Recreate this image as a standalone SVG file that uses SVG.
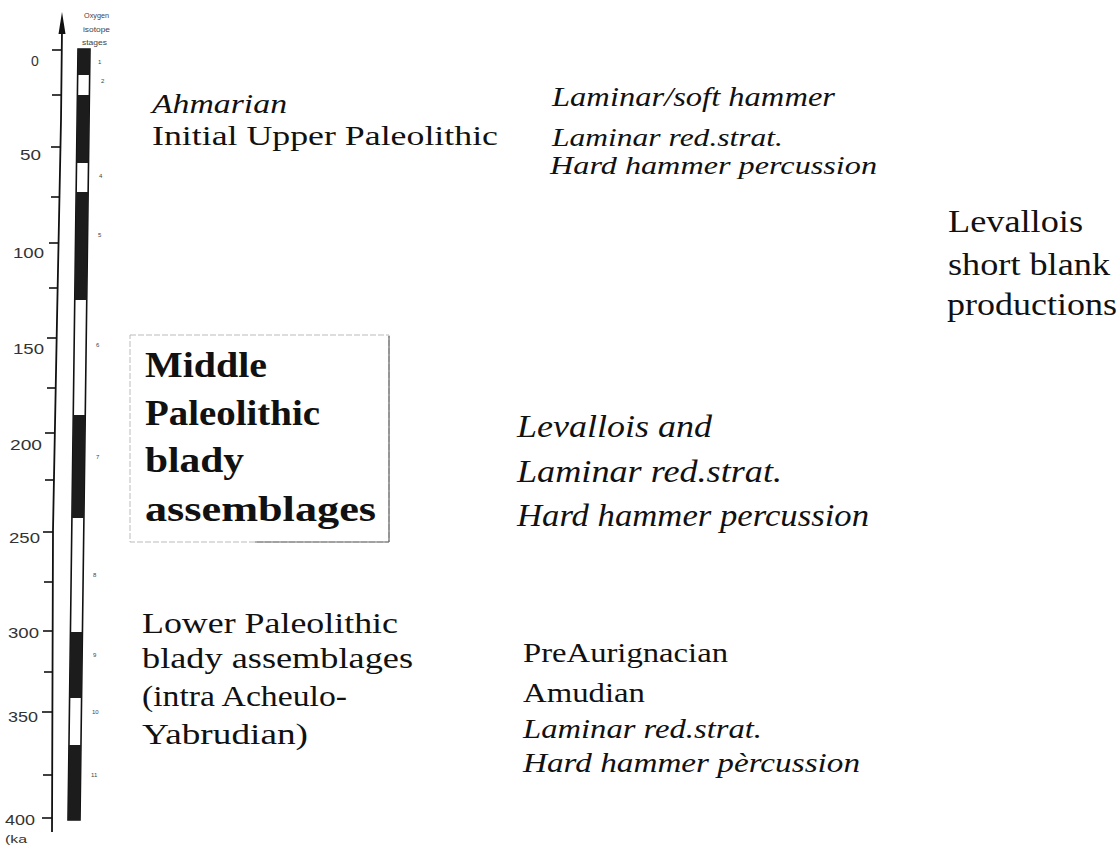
<svg xmlns="http://www.w3.org/2000/svg" width="1120" height="852" viewBox="0 0 1120 852">
<style>
  .t { font-family: "Liberation Serif", "Times New Roman", serif; fill: #111; }
  .i { font-style: italic; }
  .b { font-weight: bold; }
  .ax { font-family: "Liberation Sans", Arial, sans-serif; font-size: 14px; fill: #333; }
  .tiny { font-family: "Liberation Sans", Arial, sans-serif; font-size: 6px; fill: #444; }
  .tick { stroke: #111; stroke-width: 1.6; }
  .blk { fill: #1c1c1c; }
</style>
<rect width="1120" height="852" fill="#ffffff"/>

<g id="axis">
  <polyline points="62,30 61,120 57,320 53,530 52,832" fill="none" stroke="#111" stroke-width="1.8"/>
  <polygon points="62,12 58.5,34 65.5,34" fill="#111"/>
  <g class="tick">
    <line x1="52" y1="50" x2="62" y2="50"/>
    <line x1="52" y1="95" x2="61" y2="95"/>
    <line x1="51" y1="147" x2="61" y2="147"/>
    <line x1="51" y1="197" x2="60" y2="197"/>
    <line x1="49" y1="243" x2="59" y2="243"/>
    <line x1="49" y1="288" x2="58" y2="288"/>
    <line x1="47" y1="338" x2="57" y2="338"/>
    <line x1="47" y1="388" x2="56" y2="388"/>
    <line x1="45" y1="433" x2="55" y2="433"/>
    <line x1="45" y1="480" x2="54" y2="480"/>
    <line x1="43" y1="532" x2="53" y2="532"/>
    <line x1="44" y1="582" x2="53" y2="582"/>
    <line x1="43" y1="631" x2="53" y2="631"/>
    <line x1="44" y1="672" x2="53" y2="672"/>
    <line x1="42" y1="712" x2="52" y2="712"/>
    <line x1="43" y1="775" x2="52" y2="775"/>
    <line x1="42" y1="818" x2="52" y2="818"/>
  </g>
  <text class="ax" x="31" y="66">0</text>
  <text class="ax" x="20" y="160" textLength="21" lengthAdjust="spacingAndGlyphs">50</text>
  <text class="ax" x="13" y="258" textLength="31" lengthAdjust="spacingAndGlyphs">100</text>
  <text class="ax" x="13" y="354" textLength="31" lengthAdjust="spacingAndGlyphs">150</text>
  <text class="ax" x="10" y="450" textLength="32" lengthAdjust="spacingAndGlyphs">200</text>
  <text class="ax" x="9" y="543" textLength="31" lengthAdjust="spacingAndGlyphs">250</text>
  <text class="ax" x="8" y="638" textLength="31" lengthAdjust="spacingAndGlyphs">300</text>
  <text class="ax" x="8" y="722" textLength="30" lengthAdjust="spacingAndGlyphs">350</text>
  <text class="ax" x="5" y="825" textLength="30" lengthAdjust="spacingAndGlyphs">400</text>
  <text class="ax" x="5" y="843" style="font-size:11px" textLength="22" lengthAdjust="spacingAndGlyphs">(ka</text>
</g>

<g id="isotope-stages">
  <text class="tiny" x="84" y="18" style="font-size:7px" textLength="25" lengthAdjust="spacingAndGlyphs">Oxygen</text>
  <text class="tiny" x="83" y="32" style="font-size:7px" textLength="27" lengthAdjust="spacingAndGlyphs">isotope</text>
  <text class="tiny" x="82" y="45" style="font-size:7px" textLength="25" lengthAdjust="spacingAndGlyphs">stages</text>
  <polygon points="78,49 90,49 80,820 68,820" fill="#fff" stroke="#111" stroke-width="1.6"/>
  <polygon class="blk" points="78,49 90,49 89.66,75 77.66,75"/>
  <polygon class="blk" points="77.40,95 89.40,95 88.52,163 76.52,163"/>
  <polygon class="blk" points="76.15,192 88.15,192 86.74,300 74.74,300"/>
  <polygon class="blk" points="73.25,415 85.25,415 83.92,518 71.92,518"/>
  <polygon class="blk" points="70.44,632 82.44,632 81.58,698 69.58,698"/>
  <polygon class="blk" points="68.97,745 80.97,745 80,820 68,820"/>
  <text class="tiny" x="98" y="64">1</text>
  <text class="tiny" x="101" y="83">2</text>
  <text class="tiny" x="99" y="178">4</text>
  <text class="tiny" x="98" y="237">5</text>
  <text class="tiny" x="96" y="347">6</text>
  <text class="tiny" x="96" y="459">7</text>
  <text class="tiny" x="93" y="577">8</text>
  <text class="tiny" x="93" y="657">9</text>
  <text class="tiny" x="92" y="714">10</text>
  <text class="tiny" x="91" y="777">11</text>
</g>

<g id="connectors"></g>

<g id="node-ahmarian">
  <text class="t i" x="152" y="113" font-size="28" textLength="135" lengthAdjust="spacingAndGlyphs">Ahmarian</text>
  <text class="t" x="152" y="145" font-size="27" textLength="346" lengthAdjust="spacingAndGlyphs">Initial Upper Paleolithic</text>
</g>

<g id="node-laminar-soft">
  <text class="t i" x="552" y="106" font-size="27" textLength="283" lengthAdjust="spacingAndGlyphs">Laminar/soft hammer</text>
  <text class="t i" x="552" y="146" font-size="25" textLength="231" lengthAdjust="spacingAndGlyphs">Laminar red.strat.</text>
  <text class="t i" x="550" y="174" font-size="25" textLength="327" lengthAdjust="spacingAndGlyphs">Hard hammer percussion</text>
</g>

<g id="node-levallois-short">
  <text class="t" x="948" y="232" font-size="31" textLength="135" lengthAdjust="spacingAndGlyphs">Levallois</text>
  <text class="t" x="948" y="275" font-size="31" textLength="162" lengthAdjust="spacingAndGlyphs">short blank</text>
  <text class="t" x="947" y="315" font-size="31" textLength="170" lengthAdjust="spacingAndGlyphs">productions</text>
</g>

<g id="node-middle-paleolithic">
  <rect x="130" y="335" width="259" height="207" fill="none" stroke="#bbb" stroke-width="1" stroke-dasharray="6 2"/>
  <line x1="389" y1="336" x2="389" y2="542" stroke="#666" stroke-width="1.2"/>
  <line x1="255" y1="542" x2="389" y2="542" stroke="#666" stroke-width="1.2"/>
  <text class="t b" x="145" y="377" font-size="35" textLength="122" lengthAdjust="spacingAndGlyphs">Middle</text>
  <text class="t b" x="145" y="425" font-size="35" textLength="175" lengthAdjust="spacingAndGlyphs">Paleolithic</text>
  <text class="t b" x="145" y="472" font-size="35" textLength="99" lengthAdjust="spacingAndGlyphs">blady</text>
  <text class="t b" x="145" y="521" font-size="35" textLength="231" lengthAdjust="spacingAndGlyphs">assemblages</text>
</g>

<g id="node-levallois-laminar">
  <text class="t i" x="517" y="437" font-size="31" textLength="195" lengthAdjust="spacingAndGlyphs">Levallois and</text>
  <text class="t i" x="517" y="482" font-size="31" textLength="265" lengthAdjust="spacingAndGlyphs">Laminar red.strat.</text>
  <text class="t i" x="517" y="526" font-size="31" textLength="352" lengthAdjust="spacingAndGlyphs">Hard hammer percussion</text>
</g>

<g id="node-lower-paleolithic">
  <text class="t" x="142" y="633" font-size="29" textLength="256" lengthAdjust="spacingAndGlyphs">Lower Paleolithic</text>
  <text class="t" x="142" y="668" font-size="29" textLength="271" lengthAdjust="spacingAndGlyphs">blady assemblages</text>
  <text class="t" x="142" y="706" font-size="29" textLength="205" lengthAdjust="spacingAndGlyphs">(intra Acheulo-</text>
  <text class="t" x="142" y="744" font-size="29" textLength="166" lengthAdjust="spacingAndGlyphs">Yabrudian)</text>
</g>

<g id="node-preaurignacian">
  <text class="t" x="523" y="662" font-size="28" textLength="205" lengthAdjust="spacingAndGlyphs">PreAurignacian</text>
  <text class="t" x="523" y="702" font-size="28" textLength="122" lengthAdjust="spacingAndGlyphs">Amudian</text>
  <text class="t i" x="523" y="738" font-size="28" textLength="239" lengthAdjust="spacingAndGlyphs">Laminar red.strat.</text>
  <text class="t i" x="523" y="772" font-size="28" textLength="337" lengthAdjust="spacingAndGlyphs">Hard hammer pèrcussion</text>
</g>
</svg>
